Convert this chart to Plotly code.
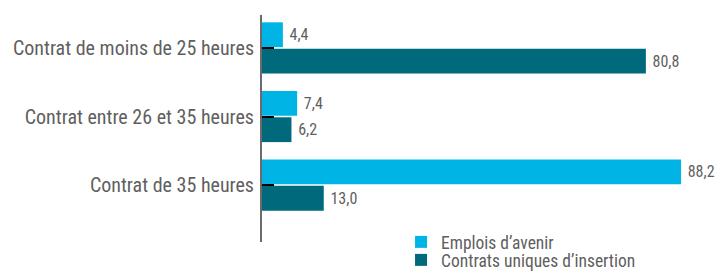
import plotly.graph_objects as go

categories = ["Contrat de moins de 25 heures", "Contrat entre 26 et 35 heures", "Contrat de 35 heures"]
emplois_avenir = [4.4, 7.4, 88.2]
contrats_uniques = [80.8, 6.2, 13.0]
series_names = ["Emplois d\u2019avenir", "Contrats uniques d\u2019insertion"]

LIGHT = "#00b5e6"
DARK = "#006a7c"
GREY = "#5f5f5f"
FONT = "Roboto Condensed, Liberation Sans Narrow, sans-serif"

fig = go.Figure()
for i, (name, vals, col) in enumerate([(series_names[0], emplois_avenir, LIGHT),
                                       (series_names[1], contrats_uniques, DARK)]):
    fig.add_trace(go.Bar(
        y=categories, x=vals, name=name, orientation="h",
        marker=dict(color=col, line=dict(width=0)),
        texttemplate=" %{x:.1f}", textposition="outside",
        textfont=dict(size=16, color=GREY, family=FONT),
        cliponaxis=False,
        legend="legend" if i == 0 else "legend2",
    ))

legend_common = dict(
    xref="container", yref="container", xanchor="left", yanchor="middle",
    font=dict(size=17.5, color=GREY, family=FONT),
    itemwidth=30, bgcolor="rgba(0,0,0,0)",
)

fig.update_layout(
    width=720, height=278,
    margin=dict(l=262, r=0, t=15, b=36, autoexpand=False),
    paper_bgcolor="white", plot_bgcolor="white",
    barmode="group", bargap=0.23, bargroupgap=0.06,
    separators=", ",
    font=dict(family=FONT, color=GREY),
    showlegend=True,
    legend=dict(x=0.557, y=1 - 242 / 278, **legend_common),
    legend2=dict(x=0.557, y=1 - 260 / 278, **legend_common),
    xaxis=dict(range=[0, 96.4], visible=False, fixedrange=True),
    yaxis=dict(
        autorange=False, range=[2.83, -0.48],
        showline=True, linecolor="#6b6b6b", linewidth=2,
        ticks="inside", ticklen=12, tickcolor="black", tickwidth=2,
        tickfont=dict(size=20, color=GREY, family=FONT),
        ticklabelstandoff=2, showgrid=False, zeroline=False,
    ),
)

fig.write_html(
    "out.html",
    config={"displayModeBar": False},
    post_script="document.body.style.margin='0';document.body.style.overflow='hidden';",
)
